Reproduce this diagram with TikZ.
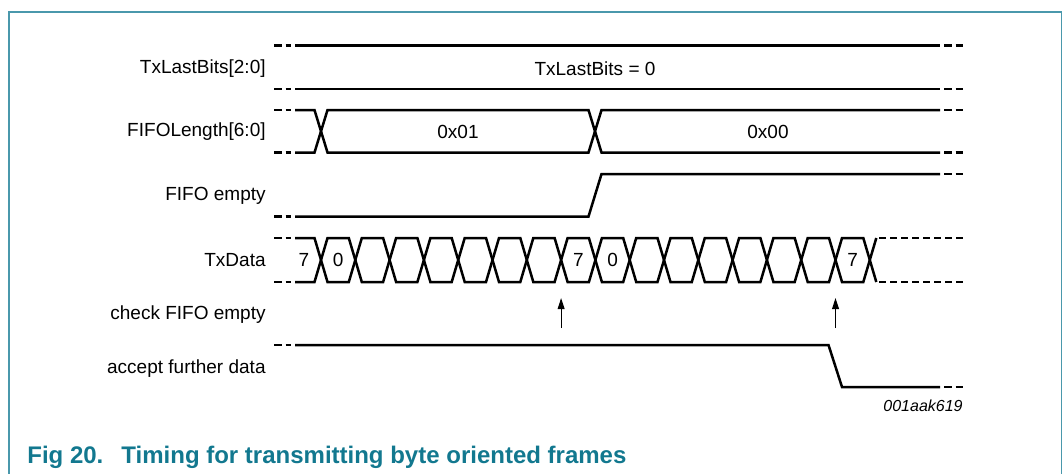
\documentclass[tikz,border=0pt]{standalone}
\usepackage{fontspec}
\setmainfont{Liberation Sans}
\usetikzlibrary{arrows.meta}
\definecolor{nxpteal}{HTML}{12788F}
\definecolor{boxline}{HTML}{4A98AC}
\definecolor{ink}{HTML}{000000}
\newcommand{\sig}{\fontsize{9.5}{11}\selectfont}
\newcommand{\docid}{\fontsize{8}{9.5}\selectfont}
\newcommand{\figfont}{\fontsize{12}{14}\selectfont}

\begin{document}
\begin{tikzpicture}[x=0.5pt,y=-0.5pt,font=\sig,
  wave/.style={ink,line width=1.25pt},
  lead/.style={ink,line width=1.25pt,dash pattern=on 4pt off 1.75pt},
  tail/.style={ink,line width=1.25pt,dash pattern=on 3.75pt off 2pt},
  open/.style={ink,line width=1.25pt,dash pattern=on 3.5pt off 2pt},
  signame/.style={anchor=east,inner sep=0},
  tick/.style={ink,line width=0.6pt,-{Triangle[length=5.5pt,width=3.4pt]}}]
\useasboundingbox (0,0) rectangle (1064,473);
\draw[boxline,line width=0.8pt] (9,480) -- (9,12) -- (1061.5,12) -- (1061.5,480);
% signal names
\node[signame] (lastbits) at (266,69) {TxLastBits[2:0]};
\node[signame] (fifolen) at (266,131.5) {FIFOLength[6:0]};
\node[signame] (fifoempty) at (266,196) {FIFO empty};
\node[signame] (txdata) at (266,260) {TxData};
\node[signame] (check) at (266,315) {check FIFO empty};
\node[signame] (accept) at (266,369) {accept further data};
% TxLastBits
\draw[lead] (274,45.5) -- (291,45.5);
\draw[lead] (274,89) -- (291,89);
\draw[wave] (295,45.5) -- (940,45.5);
\draw[wave] (295,89) -- (940,89);
\draw[tail] (944,45.5) -- (963,45.5);
\draw[tail] (944,89) -- (963,89);
\node (lastval) at (595,69) {TxLastBits = 0};
% FIFOLength
\draw[lead] (274,110) -- (291,110);
\draw[lead] (274,152.5) -- (291,152.5);
\draw[wave] (295,110) -- (314.5,110) -- (327.5,152.5) -- (588.5,152.5) -- (601.5,110) -- (940,110);
\draw[wave] (295,152.5) -- (314.5,152.5) -- (327.5,110) -- (588.5,110) -- (601.5,152.5) -- (940,152.5);
\draw[tail] (944,110) -- (963,110);
\draw[tail] (944,152.5) -- (963,152.5);
\node (len01) at (458,131.5) {0x01};
\node (len00) at (768,131.5) {0x00};
% FIFO empty
\draw[lead] (274,216.5) -- (291,216.5);
\draw[wave] (295,216.5) -- (588.5,216.5) -- (601.5,174) -- (940,174);
\draw[tail] (944,174) -- (963,174);
% TxData
\draw[lead] (274,238) -- (291,238);
\draw[lead] (274,282) -- (291,282);
\draw[wave] (295,238) -- (314.5,238) -- (321,260) -- (314.5,282) -- (295,282);
\foreach \k in {0,...,15}{
  \pgfmathsetmacro{\xa}{321+34.3*\k}
  \draw[wave] (\xa,260) -- (\xa+6.5,238) -- (\xa+27.8,238) -- (\xa+34.3,260)
    -- (\xa+27.8,282) -- (\xa+6.5,282) -- cycle;
}
\draw[wave] (876.3,238) -- (869.8,260) -- (876.3,282);
\draw[open] (879,238) -- (963,238);
\draw[open] (879,282) -- (963,282);
\node (bit7a) at (304,260) {7};
\node (bit0a) at (338.2,260) {0};
\node (bit7b) at (578.3,260) {7};
\node (bit0b) at (612.6,260) {0};
\node (bit7c) at (852.7,260) {7};
% check FIFO empty
\coordinate (chkabot) at (561.1,328);
\coordinate (chkatop) at (561.1,298);
\coordinate (chkbbot) at (835.5,328);
\coordinate (chkbtop) at (835.5,298);
\draw[tick] (chkabot) -- (chkatop);
\draw[tick] (chkbbot) -- (chkbtop);
% accept further data
\draw[lead] (274,345) -- (291,345);
\draw[wave] (295,345) -- (828.5,345) -- (842,387) -- (940,387);
\draw[tail] (944,387) -- (963,387);
\node[anchor=east,inner sep=0,font=\docid\itshape] (docnum) at (963,406) {001aak619};
\node[anchor=west,inner sep=0,text=nxpteal,font=\figfont\bfseries] (figcap) at (27,457)
  {Fig 20.\hspace{9pt}Timing for transmitting byte oriented frames};
\end{tikzpicture}
\end{document}
